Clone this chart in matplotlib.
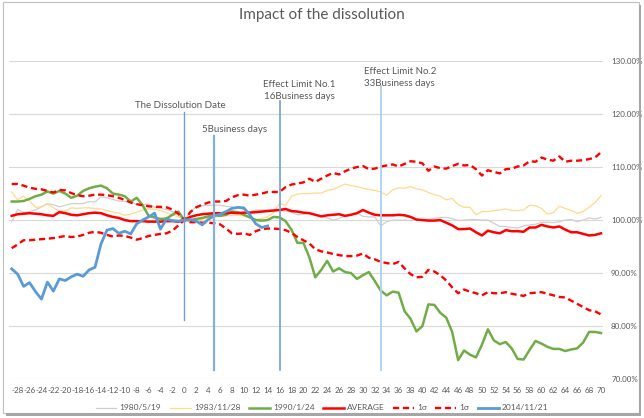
import numpy as np
import matplotlib
matplotlib.use("Agg")
import matplotlib.pyplot as plt
from matplotlib.patches import Rectangle

plt.rcParams['font.family'] = ['Lato', 'DejaVu Sans']
plt.rcParams['axes.unicode_minus'] = False

days = np.arange(-29, 71)

s1980 = [99.7, 102.0, 101.4, 101.6, 101.9, 102.5, 103.1, 102.9, 102.5, 102.8, 103.1, 103.1, 103.1, 103.5, 103.4, 104.4, 104.2, 103.9, 103.6, 103.5, 103.5,
         102.9, 102.9, 103.0, 102.4, 102.2, 102.0, 101.6, 100.9, 100.0, 101.5, 102.5, 102.7, 102.8, 102.8, 102.8, 102.6, 102.5, 102.3, 102.0,
         101.5, 101.9, 101.9, 101.9, 101.9, 101.8, 101.7, 101.5, 101.0, 101.1, 101.4, 101.0, 100.8, 100.4, 100.0, 100.3, 100.8, 101.0, 101.3,
         100.7, 100.6, 100.6, 98.9, 99.7, 100.0, 100.0, 100.0, 99.9, 100.0, 100.1, 100.2, 100.3, 100.5, 100.5, 100.3, 99.9, 100.0, 100.1, 100.1,
         100.0, 100.0, 99.4, 98.8, 98.8, 98.6, 98.5, 98.9, 99.1, 99.2, 99.6, 99.6, 99.5, 99.7, 100.0, 100.1, 99.7, 100.0, 100.4, 100.2, 100.5]

s1983 = [105.3, 103.8, 104.5, 103.6, 102.4, 102.5, 103.1, 102.3, 101.7, 101.7, 102.3, 102.2, 102.3, 102.3, 102.2, 102.1, 101.8, 101.5, 101.3, 100.9, 101.1,
         101.5, 101.9, 102.1, 102.0, 101.8, 101.4, 101.0, 100.6, 100.0, 99.7, 99.8, 100.2, 100.5, 100.6, 100.7, 100.8, 100.9, 100.9, 100.8,
         100.7, 100.1, 100.3, 100.6, 101.4, 103.1, 102.8, 104.5, 104.9, 105.0, 105.0, 105.1, 105.1, 105.6, 105.8, 106.3, 106.8, 106.5, 106.3,
         106.0, 105.8, 105.6, 105.3, 104.7, 105.7, 106.1, 106.0, 106.3, 105.9, 105.7, 105.2, 104.8, 104.5, 103.8, 104.1, 102.9, 102.4, 102.4, 101.0,
         101.6, 101.6, 101.8, 101.9, 102.1, 101.8, 101.8, 101.9, 102.8, 102.7, 102.2, 101.1, 101.4, 102.6, 102.2, 101.8, 101.3, 101.6, 102.4, 103.3, 104.6]

s1990 = [103.5, 103.5, 103.6, 104.0, 104.5, 104.8, 105.4, 105.0, 105.5, 105.0, 104.2, 104.6, 105.5, 106.0, 106.3, 106.5, 106.0, 105.0, 104.8, 104.5, 103.5,
         104.2, 102.8, 100.8, 100.5, 100.2, 100.3, 101.0, 101.6, 100.0, 100.0, 100.2, 100.4, 100.7, 101.0, 100.8, 101.0, 101.6, 101.5, 101.0,
         100.5, 100.0, 99.9, 100.0, 100.6, 100.5, 99.8, 98.2, 95.7, 95.7, 93.0, 89.2, 90.6, 92.3, 90.3, 90.9, 90.2, 90.0, 88.9,
         89.6, 90.2, 88.5, 86.7, 85.8, 86.5, 86.3, 82.8, 81.4, 79.0, 80.0, 84.1, 84.0, 82.5, 81.6, 78.9, 73.6, 75.4, 74.6, 74.1,
         76.5, 79.4, 77.3, 76.6, 77.0, 75.8, 73.8, 73.7, 75.5, 77.2, 76.7, 76.1, 75.7, 75.7, 75.3, 75.6, 75.8, 76.9, 78.9, 78.9, 78.7]

average = [100.8, 101.1, 101.2, 101.3, 101.2, 101.1, 100.9, 100.8, 101.5, 101.3, 101.0, 100.9, 101.1, 101.3, 101.4, 101.3, 100.9, 100.6, 100.4, 100.0, 99.8,
           99.8, 99.8, 99.7, 99.7, 99.7, 99.8, 99.8, 99.7, 100.0, 100.6, 100.9, 101.1, 101.2, 101.3, 101.3, 101.3, 101.4, 101.3, 101.4,
           101.4, 101.5, 101.6, 101.7, 101.8, 101.9, 102.1, 101.7, 101.6, 101.4, 101.3, 101.0, 100.7, 100.9, 101.0, 101.1, 100.8, 101.0, 101.3,
           101.9, 101.4, 101.0, 100.9, 100.9, 100.9, 101.0, 100.9, 100.6, 100.1, 100.0, 99.9, 99.9, 100.0, 99.5, 99.0, 98.3, 98.3, 98.4, 97.7,
           97.1, 98.0, 97.7, 97.5, 98.1, 97.9, 97.9, 97.8, 98.6, 98.6, 99.1, 98.8, 98.6, 98.8, 98.2, 97.7, 97.7, 97.4, 97.1, 97.2, 97.5]

sigma_up = [106.8, 106.8, 106.5, 106.1, 105.9, 105.8, 105.5, 105.2, 105.7, 105.6, 105.1, 104.7, 104.5, 104.6, 104.8, 104.8, 104.7, 104.5, 104.2, 103.8, 103.3,
            103.0, 102.8, 102.6, 102.5, 102.5, 102.4, 102.0, 101.2, 100.0, 101.5, 102.4, 102.9, 103.3, 103.5, 103.5, 103.6, 104.3, 104.7, 104.8,
            104.6, 104.8, 105.0, 105.3, 105.3, 105.3, 106.2, 106.7, 106.9, 107.1, 107.8, 107.2, 107.8, 108.4, 108.9, 108.6, 109.2, 109.7, 110.0,
            110.2, 109.6, 109.7, 110.1, 110.3, 110.5, 110.1, 110.6, 111.1, 111.0, 110.7, 109.3, 110.1, 109.8, 109.7, 110.2, 110.6, 110.3, 110.4, 109.6,
            108.4, 109.4, 109.1, 108.8, 109.6, 109.7, 110.1, 110.3, 111.1, 111.0, 111.8, 111.4, 111.2, 112.0, 111.0, 111.2, 111.2, 111.3, 111.5, 111.8, 112.8]

sigma_dn = [94.7, 95.4, 96.2, 96.2, 96.3, 96.4, 96.5, 96.6, 96.8, 97.0, 96.8, 96.9, 97.2, 97.6, 97.8, 97.6, 97.2, 96.9, 97.1, 97.0, 96.7,
            96.3, 96.6, 97.0, 97.2, 97.4, 97.5, 98.0, 99.0, 100.0, 99.6, 99.6, 99.5, 99.5, 99.4, 99.2, 98.4, 97.5, 97.4, 97.5,
            97.2, 97.9, 98.3, 98.4, 98.4, 98.3, 98.1, 97.6, 96.8, 96.2, 95.6, 94.5, 94.1, 93.9, 93.6, 93.4, 93.2, 93.2, 93.3,
            93.7, 92.9, 92.6, 92.1, 91.9, 91.7, 92.1, 90.9, 89.8, 89.2, 89.3, 90.6, 90.3, 89.6, 88.6, 87.3, 86.2, 86.9, 86.5, 86.2,
            85.8, 86.4, 86.2, 86.2, 86.4, 86.1, 85.9, 85.7, 86.2, 86.3, 86.4, 86.1, 85.8, 85.5, 85.4, 84.8, 84.2, 83.6, 83.0, 82.8, 82.2]

# 2014/11/21 only runs to day 14
s2014 = [90.8, 89.8, 87.5, 88.2, 86.5, 85.1, 88.3, 86.6, 88.9, 88.6, 89.3, 89.8, 89.4, 90.6, 91.1, 95.5, 98.1, 98.4, 97.5, 97.9, 97.4,
         99.3, 100.0, 100.6, 101.3, 98.3, 100.2, 99.9, 99.8, 100.0, 100.1, 99.8, 99.1, 100.1, 100.8, 101.1, 101.6, 102.2, 102.4, 102.3,
         101.0, 99.3, 98.6, 98.9]
s2014 = s2014 + [np.nan] * (len(days) - len(s2014))

# event markers: day, bottom, top
markers = [(0, 81.1, 120.3, '#6f9fd3', 1.0),
           (5, 71.7, 115.8, '#82b1e0', 1.6),
           (16, 71.7, 122.5, '#6f9fd3', 1.2),
           (33, 71.7, 125.3, '#acd0ee', 1.3)]

fig = plt.figure(figsize=(6.44, 4.18), dpi=100)
ax = fig.add_axes([0.014, 0.093, 0.922, 0.761])

txt = '#595959'
ax.plot(days, s1980, color='#cfcfcf', lw=0.9, label='1980/5/19')
ax.plot(days, s1983, color='#ffd98c', lw=0.9, label='1983/11/28')
ax.plot(days, s1990, color='#70ad47', lw=1.8, label='1990/1/24')
ax.plot(days, average, color='#ff0000', lw=1.8, label='AVERAGE')
ax.plot(days, sigma_up, color='#ff0000', lw=1.7, ls=(0, (2.6, 1.6)), label='1σ')
ax.plot(days, sigma_dn, color='#ff0000', lw=1.7, ls=(0, (2.6, 1.6)), label='1σ')
ax.plot(days, s2014, color='#5b9bd5', lw=2.0, label='2014/11/21')

for d, lo, hi, c, w in markers:
    ax.plot([d, d], [lo, hi], color=c, lw=w)

ax.text(-0.7, 121.7, 'The Dissolution Date', fontsize=7, color=txt, ha='center', va='center')
ax.text(8.4, 117.0, '5Business days', fontsize=7, color=txt, ha='center', va='center')
ax.text(19.3, 125.6, 'Effect Limit No.1', fontsize=7, color=txt, ha='center', va='center')
ax.text(19.3, 123.4, '16Business days', fontsize=7, color=txt, ha='center', va='center')
ax.text(36.2, 128.1, 'Effect Limit No.2', fontsize=7, color=txt, ha='center', va='center')
ax.text(36.2, 125.8, '33Business days', fontsize=7, color=txt, ha='center', va='center')

ax.set_xlim(-29.45, 70.3)
ax.set_ylim(70, 130)
ax.set_xticks(np.arange(-28, 71, 2))
ax.set_yticks(np.arange(70, 131, 10))
ax.yaxis.tick_right()
ax.yaxis.set_major_formatter(lambda v, p: '%.2f%%' % v)
ax.tick_params(axis='both', length=0, labelsize=5.8, colors=txt)
ax.tick_params(axis='y', pad=6)
ax.tick_params(axis='x', pad=6)
ax.grid(axis='y', color='#d9d9d9', lw=0.8)
ax.set_axisbelow(True)
for s in ax.spines.values():
    s.set_visible(False)

fig.text(0.5, 0.963, 'Impact of the dissolution', fontsize=11, color=txt, ha='center', va='center')

ax.legend(loc='center', bbox_to_anchor=(0.5, 0.024), bbox_transform=fig.transFigure,
          ncol=7, frameon=False, fontsize=6, labelcolor=txt, handlelength=2.5,
          columnspacing=1.0, handletextpad=0.4)

# image frame with a small shadow
fig.patches.append(Rectangle((0.004, 0.012), 0.988, 0.984, transform=fig.transFigure,
                             fill=False, edgecolor='#bfbfbf', lw=0.8))
fig.patches.append(Rectangle((0.992, 0.004), 0.004, 0.984, transform=fig.transFigure,
                             color='#a6a6a6', lw=0))
fig.patches.append(Rectangle((0.01, 0.004), 0.986, 0.008, transform=fig.transFigure,
                             color='#a6a6a6', lw=0))

fig.savefig('out.png', dpi=100)
